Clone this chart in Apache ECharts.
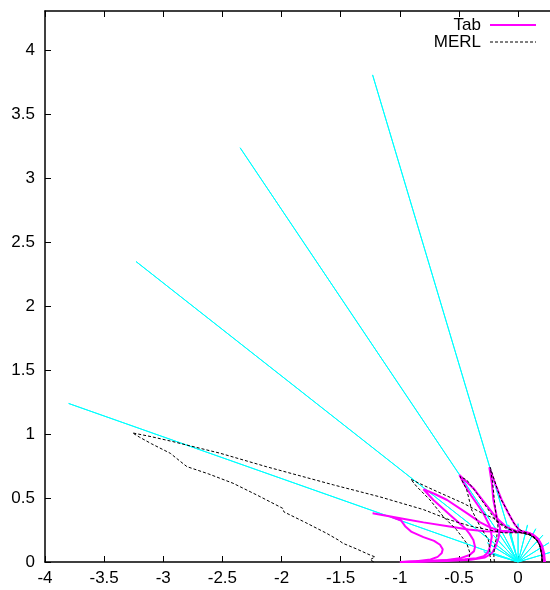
<!DOCTYPE html>
<html>
<head>
<meta charset="utf-8">
<script src="https://cdn.jsdelivr.net/npm/echarts@6/dist/echarts.min.js"></script>
<style>html,body{margin:0;padding:0;background:#fff}#c{width:550px;height:590px}</style>
</head>
<body>
<div id="c"></div>
<script>
// ---- data ----
const xMin = -4, xMax = 0.27, xStep = 0.5;
const yMin = 0, yMax = 4.31, yStep = 0.5;
const legendNames = ['Tab', 'MERL'];

// long incident rays (endpoints, rays start at origin)
const rayLong = [[-3.80,1.24],[-3.23,2.35],[-2.35,3.24],[-1.23,3.81]];
// short sample rays (endpoints, rays start at origin)
const rayShort = [[0.29,0.08],[0.26,0.15],[0.21,0.21],[0.15,0.26],[0.08,0.29],[0.0,0.30],
                  [-0.08,0.29],[-0.15,0.26],[-0.21,0.21],[-0.26,0.15],[-0.29,0.08]];

const tabA = [[-1.00,0.00],[-0.86,0.005],[-0.74,0.02],[-0.68,0.04],[-0.645,0.07],[-0.637,0.10],[-0.66,0.135],[-0.71,0.165],[-0.80,0.195],[-0.90,0.235],[-0.955,0.28],[-0.99,0.325],[-1.08,0.355],[-1.23,0.381],[-1.10,0.36],[-0.95,0.335],[-0.80,0.31],[-0.58,0.278],[-0.42,0.255],[-0.28,0.24],[-0.15,0.236],[-0.03,0.235],[0.06,0.23],[0.12,0.214],[0.165,0.18],[0.195,0.13],[0.212,0.07],[0.218,0.0]];
const tabB = [[-0.98,0.0],[-0.80,0.006],[-0.60,0.016],[-0.48,0.032],[-0.41,0.055],[-0.372,0.085],[-0.364,0.12],[-0.378,0.172],[-0.41,0.22],[-0.448,0.264],[-0.575,0.368],[-0.716,0.485],[-0.80,0.569],[-0.70,0.53],[-0.60,0.485],[-0.43,0.38],[-0.32,0.31],[-0.237,0.27],[-0.15,0.245],[-0.05,0.238],[0.05,0.232],[0.12,0.215],[0.168,0.18],[0.198,0.13],[0.214,0.07],[0.22,0.0]];
const tabC = [[-0.96,0.0],[-0.75,0.008],[-0.575,0.016],[-0.45,0.022],[-0.35,0.03],[-0.29,0.045],[-0.255,0.075],[-0.237,0.12],[-0.222,0.198],[-0.237,0.276],[-0.293,0.381],[-0.39,0.511],[-0.46,0.616],[-0.496,0.681],[-0.44,0.63],[-0.378,0.577],[-0.279,0.459],[-0.18,0.342],[-0.10,0.275],[-0.02,0.245],[0.06,0.235],[0.12,0.218],[0.17,0.182],[0.202,0.13],[0.22,0.07],[0.228,0.0]];
const tabD = [[-0.90,0.0],[-0.60,0.008],[-0.40,0.018],[-0.28,0.035],[-0.22,0.07],[-0.19,0.12],[-0.165,0.19],[-0.152,0.264],[-0.18,0.355],[-0.209,0.485],[-0.222,0.616],[-0.243,0.741],[-0.195,0.616],[-0.138,0.485],[-0.082,0.381],[-0.025,0.29],[0.017,0.245],[0.10,0.225],[0.17,0.172],[0.20,0.094],[0.209,0.0]];

const merlA = [[-1.22,0.0],[-1.25,0.018],[-1.21,0.04],[-1.26,0.058],[-1.36,0.10],[-1.48,0.146],[-1.52,0.172],[-1.62,0.225],[-1.80,0.31],[-1.98,0.392],[-1.99,0.42],[-2.20,0.52],[-2.41,0.616],[-2.62,0.69],[-2.80,0.746],[-2.86,0.79],[-2.94,0.85],[-3.10,0.925],[-3.20,0.976],[-3.26,1.01],[-3.10,0.98],[-2.92,0.942],[-2.52,0.851],[-2.13,0.746],[-1.56,0.603],[-1.17,0.51],[-1.00,0.464],[-0.80,0.41],[-0.58,0.33],[-0.40,0.28],[-0.24,0.25],[-0.12,0.228],[0.02,0.229],[0.10,0.211],[0.158,0.172],[0.186,0.12],[0.20,0.055],[0.205,0.0]];
const merlB = [[-0.42,0.0],[-0.415,0.03],[-0.406,0.068],[-0.434,0.146],[-0.518,0.25],[-0.632,0.355],[-0.744,0.485],[-0.857,0.59],[-0.907,0.647],[-0.80,0.60],[-0.716,0.564],[-0.462,0.459],[-0.30,0.38],[-0.209,0.342],[-0.13,0.29],[-0.05,0.245],[0.04,0.228],[0.10,0.211],[0.158,0.172],[0.186,0.12],[0.20,0.055],[0.205,0.0]];
const merlC = [[-0.23,0.0],[-0.237,0.05],[-0.24,0.1],[-0.25,0.172],[-0.32,0.276],[-0.392,0.407],[-0.434,0.564],[-0.49,0.668],[-0.434,0.642],[-0.349,0.538],[-0.25,0.407],[-0.18,0.316],[-0.10,0.262],[0.0,0.235],[0.08,0.22],[0.14,0.19],[0.18,0.14],[0.198,0.07],[0.203,0.0]];
const merlD = [[-0.20,0.0],[-0.205,0.05],[-0.20,0.12],[-0.18,0.20],[-0.17,0.28],[-0.185,0.36],[-0.20,0.48],[-0.215,0.62],[-0.235,0.74],[-0.20,0.64],[-0.15,0.50],[-0.09,0.40],[-0.04,0.31],[0.0,0.26],[0.05,0.235],[0.10,0.22],[0.15,0.185],[0.18,0.14],[0.198,0.07],[0.205,0.0]];

// ---- build chart ----
const FONT = 'Liberation Sans, Arial, Helvetica, sans-serif';
const FS = 17;
const TAB_COLOR = '#ff00ff', MERL_COLOR = '#000000', RAY_COLOR = '#00ffff';
const MERL_DASH = [3, 2];
const origin = [0, 0];
function raySegments(ends) {
  const d = [];
  ends.forEach(e => { d.push(origin, e, origin); });
  return d;
}
function tickFmt(step) {
  return function (v) {
    const k = v / step;
    if (Math.abs(k - Math.round(k)) > 1e-6) return '';
    return String(Math.round(v * 10) / 10);
  };
}
const axisLine = { show: true, onZero: false, lineStyle: { color: '#000', width: 1.5 } };
const axisTick = { show: true, inside: true, length: 6, lineStyle: { color: '#000', width: 1 } };

const tabSeries = [tabA, tabB, tabC, tabD].map(d => ({
  name: legendNames[0], type: 'line', data: d, symbol: 'none', showSymbol: false, z: 3,
  lineStyle: { color: TAB_COLOR, width: 2 }, itemStyle: { color: TAB_COLOR }
}));
const merlSeries = [merlA, merlB, merlC, merlD].map(d => ({
  name: legendNames[1], type: 'line', data: d, symbol: 'none', showSymbol: false, z: 4,
  lineStyle: { color: MERL_COLOR, width: 1, type: MERL_DASH }, itemStyle: { color: MERL_COLOR }
}));

// legend drawn as graphic (gnuplot style: text then line sample)
const legendX = 481, lineX0 = 490, lineX1 = 536, legendY0 = 25, legendDY = 17;
const legendGraphics = [];
legendNames.forEach((n, i) => {
  const y = legendY0 + i * legendDY;
  legendGraphics.push({
    type: 'text', x: legendX, y: y, z: 10,
    style: { text: n, fill: '#000', font: FS + 'px ' + FONT, textAlign: 'right', textVerticalAlign: 'middle' }
  });
  legendGraphics.push({
    type: 'line', z: 10,
    shape: { x1: lineX0, y1: y, x2: lineX1, y2: y },
    style: i === 0 ? { stroke: TAB_COLOR, lineWidth: 2 } : { stroke: MERL_COLOR, lineWidth: 1, lineDash: MERL_DASH }
  });
});

const option = {
  animation: false,
  backgroundColor: '#fff',
  grid: { left: 45, right: 0, top: 11, bottom: 28, show: false },
  graphic: legendGraphics,
  xAxis: [
    { type: 'value', min: xMin, max: xMax, interval: xStep, position: 'bottom',
      axisLine, axisTick, splitLine: { show: false },
      axisLabel: { formatter: tickFmt(xStep), fontFamily: FONT, fontSize: FS, color: '#000', margin: 8, showMaxLabel: false } },
    { type: 'value', min: xMin, max: xMax, interval: xStep, position: 'top',
      axisLine, axisTick, splitLine: { show: false }, axisLabel: { show: false } }
  ],
  yAxis: [
    { type: 'value', min: yMin, max: yMax, interval: yStep, position: 'left',
      axisLine, axisTick, splitLine: { show: false },
      axisLabel: { formatter: tickFmt(yStep), fontFamily: FONT, fontSize: FS, color: '#000', margin: 10, showMaxLabel: false } }
  ],
  series: [
    { name: 'rays', type: 'line', data: raySegments(rayLong.concat(rayShort)), symbol: 'none', z: 2,
      lineStyle: { color: RAY_COLOR, width: 1 } },
    ...tabSeries,
    ...merlSeries
  ]
};
const chart = echarts.init(document.getElementById('c'), null, { renderer: 'canvas' });
chart.setOption(option);
</script>
</body>
</html>
